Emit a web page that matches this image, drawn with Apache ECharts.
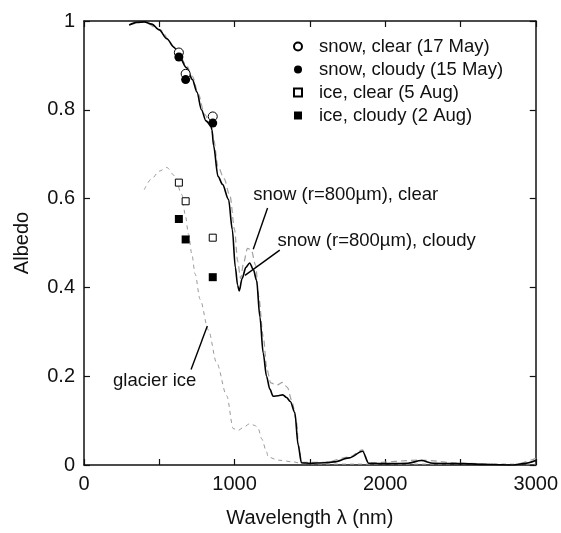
<!DOCTYPE html>
<html><head><meta charset="utf-8">
<script src="https://cdn.jsdelivr.net/npm/echarts@6/dist/echarts.min.js"></script>
<style>html,body{margin:0;padding:0;background:#fff}#c{width:561px;height:533px}</style>
</head><body><div id="c"></div><script>
// ---- data ----
const snowCloudyWl  = [300,350,400,450,500,550,600,630,680,720,750,780,810,840,850,860,890,920,960,985,1005,1020,1031,1050,1075,1100,1125,1146,1168,1190,1212,1234,1256,1290,1320,1345,1370,1400,1422,1444,1500,1600,1660,1760,1850,1890,2000,2150,2240,2320,2500,2700,2850,2920,3000];
const snowCloudyAlb = [0.991,0.997,0.998,0.993,0.980,0.960,0.940,0.922,0.895,0.868,0.840,0.800,0.775,0.766,0.755,0.720,0.650,0.632,0.598,0.530,0.445,0.405,0.392,0.420,0.445,0.455,0.440,0.416,0.334,0.252,0.200,0.171,0.155,0.156,0.158,0.152,0.143,0.118,0.045,0.005,0.004,0.005,0.007,0.016,0.031,0.004,0.003,0.004,0.010,0.004,0.003,0.001,0.000,0.003,0.010];

const snowClearWl  = [300,400,500,600,630,680,720,760,800,840,860,890,930,970,1000,1020,1040,1060,1085,1110,1140,1160,1190,1215,1240,1280,1320,1350,1380,1410,1425,1445,1600,1760,1850,1890,2240,2500,2850,3000];
const snowClearAlb = [0.991,0.998,0.981,0.942,0.925,0.900,0.875,0.835,0.790,0.770,0.735,0.672,0.645,0.605,0.530,0.460,0.420,0.455,0.488,0.485,0.450,0.380,0.290,0.215,0.185,0.180,0.186,0.175,0.145,0.100,0.045,0.006,0.006,0.018,0.034,0.005,0.011,0.004,0.001,0.015];

const iceWl  = [400,450,500,550,600,650,672,694,716,738,771,826,881,948,991,1024,1060,1100,1135,1157,1180,1212,1223,1289,1389,1450,1600,2000,3000];
const iceAlb = [0.620,0.645,0.662,0.670,0.652,0.609,0.564,0.520,0.475,0.430,0.373,0.304,0.230,0.156,0.082,0.078,0.085,0.093,0.089,0.082,0.059,0.030,0.018,0.011,0.007,0.003,0.002,0.002,0.002];

const obsWl          = [630,675,855];
const snowClearObs   = [0.929,0.881,0.785];
const snowCloudyObs  = [0.919,0.868,0.770];
const iceClearObs    = [0.636,0.594,0.512];
const iceCloudyObs   = [0.554,0.508,0.423];

const xTicks = [0,1000,2000,3000];
const yTicks = [0,0.2,0.4,0.6,0.8,1];
const legendNames = ['snow, clear (17 May)','snow, cloudy (15 May)','ice, clear (5 Aug)','ice, cloudy (2 Aug)'];

// ---- chart ----
const FONT = 'Liberation Sans, Arial, Helvetica, sans-serif';
const pair = (xs, ys) => xs.map((x,i)=>[x, ys[i]]);
const chart = echarts.init(document.getElementById('c'), null, {renderer:'canvas'});

const axisLine = {show:true, onZero:false, lineStyle:{color:'#111', width:1.5}};
const axisTick = {show:true, inside:true, length:6, lineStyle:{color:'#111', width:1.2}};

const option = {
  backgroundColor:'#fff',
  animation:false,
  grid:{left:84, right:24, top:21, bottom:63},
  xAxis:[
    {type:'value', min:0, max:3000, interval:500, position:'bottom',
     axisLine, axisTick, splitLine:{show:false},
     axisLabel:{fontSize:20, color:'#111', fontFamily:FONT, margin:9,
       formatter:v => xTicks.includes(v) ? String(v) : ''},
     name:'Wavelength λ (nm)', nameLocation:'middle', nameGap:43,
     nameTextStyle:{fontSize:20, color:'#111', fontFamily:FONT}},
    {type:'value', min:0, max:3000, interval:500, position:'top',
     axisLine, axisTick, splitLine:{show:false}, axisLabel:{show:false}}
  ],
  yAxis:[
    {type:'value', min:0, max:1, interval:0.2, position:'left',
     axisLine, axisTick, splitLine:{show:false},
     axisLabel:{fontSize:20, color:'#111', fontFamily:FONT, margin:9,
       formatter:v => { const t = yTicks.find(k => Math.abs(k-v)<1e-6); return t===0?'0':t===1?'1':t.toFixed(1); }},
     name:'Albedo', nameLocation:'middle', nameGap:52, nameRotate:90,
     nameTextStyle:{fontSize:20, color:'#111', fontFamily:FONT}},
    {type:'value', min:0, max:1, interval:0.2, position:'right',
     axisLine, axisTick, splitLine:{show:false}, axisLabel:{show:false}}
  ],
  legend:{
    data:legendNames, orient:'vertical', left:293, top:37, padding:0,
    itemWidth:8, itemHeight:8, itemGap:4,
    textStyle:{fontSize:18.5, lineHeight:18, color:'#111', fontFamily:FONT, padding:[0,0,0,12]},
    selectedMode:false
  },
  series:[
    {name:'glacier ice', type:'line', data:pair(iceWl, iceAlb), showSymbol:false, smooth:0.3, smoothMonotone:'x',
     lineStyle:{color:'#999', width:1, type:[4,4]}, z:1},
    {name:'snow clear model', type:'line', data:pair(snowClearWl, snowClearAlb), showSymbol:false, smooth:0.3, smoothMonotone:'x',
     lineStyle:{color:'#a0a0a0', width:1.2, type:[6,4]}, z:2},
    {name:'snow cloudy model', type:'line', data:pair(snowCloudyWl, snowCloudyAlb), showSymbol:false, smooth:0.3, smoothMonotone:'x',
     lineStyle:{color:'#000', width:1.6}, z:3},
    {name:legendNames[0], type:'scatter', data:pair(obsWl, snowClearObs), symbol:'circle', symbolSize:9,
     itemStyle:{color:'#fff', borderColor:'#000', borderWidth:1, opacity:1}, z:5},
    {name:legendNames[1], type:'scatter', data:pair(obsWl, snowCloudyObs), symbol:'circle', symbolSize:9,
     itemStyle:{color:'#000', opacity:1}, z:6},
    {name:legendNames[2], type:'scatter', data:pair(obsWl, iceClearObs), symbol:'rect', symbolSize:7,
     itemStyle:{color:'#fff', borderColor:'#000', borderWidth:1, opacity:1}, z:5},
    {name:legendNames[3], type:'scatter', data:pair(obsWl, iceCloudyObs), symbol:'rect', symbolSize:8,
     itemStyle:{color:'#000', opacity:1}, z:6}
  ]
};
chart.setOption(option);

// annotations placed in data coordinates
const notes = [
  {text:'snow (r=800µm), clear',  at:[1124,0.608], from:[1219,0.579], to:[1124,0.486]},
  {text:'snow (r=800µm), cloudy', at:[1285,0.503], from:[1300,0.484], to:[1069,0.427]},
  {text:'glacier ice',            at:[193,0.189],  from:[711,0.215],  to:[819,0.313]}
];
const px = p => chart.convertToPixel({gridIndex:0}, p);
const graphics = [];
notes.forEach(n => {
  const a = px(n.at), f = px(n.from), t = px(n.to);
  graphics.push({type:'text', left:a[0], top:a[1]-10, style:{text:n.text, fontSize:18.5, fontFamily:FONT, fill:'#111'}, z:10});
  graphics.push({type:'line', shape:{x1:f[0], y1:f[1], x2:t[0], y2:t[1]}, style:{stroke:'#000', lineWidth:1.4}, z:10});
});
chart.setOption({graphic:graphics});
</script></body></html>
